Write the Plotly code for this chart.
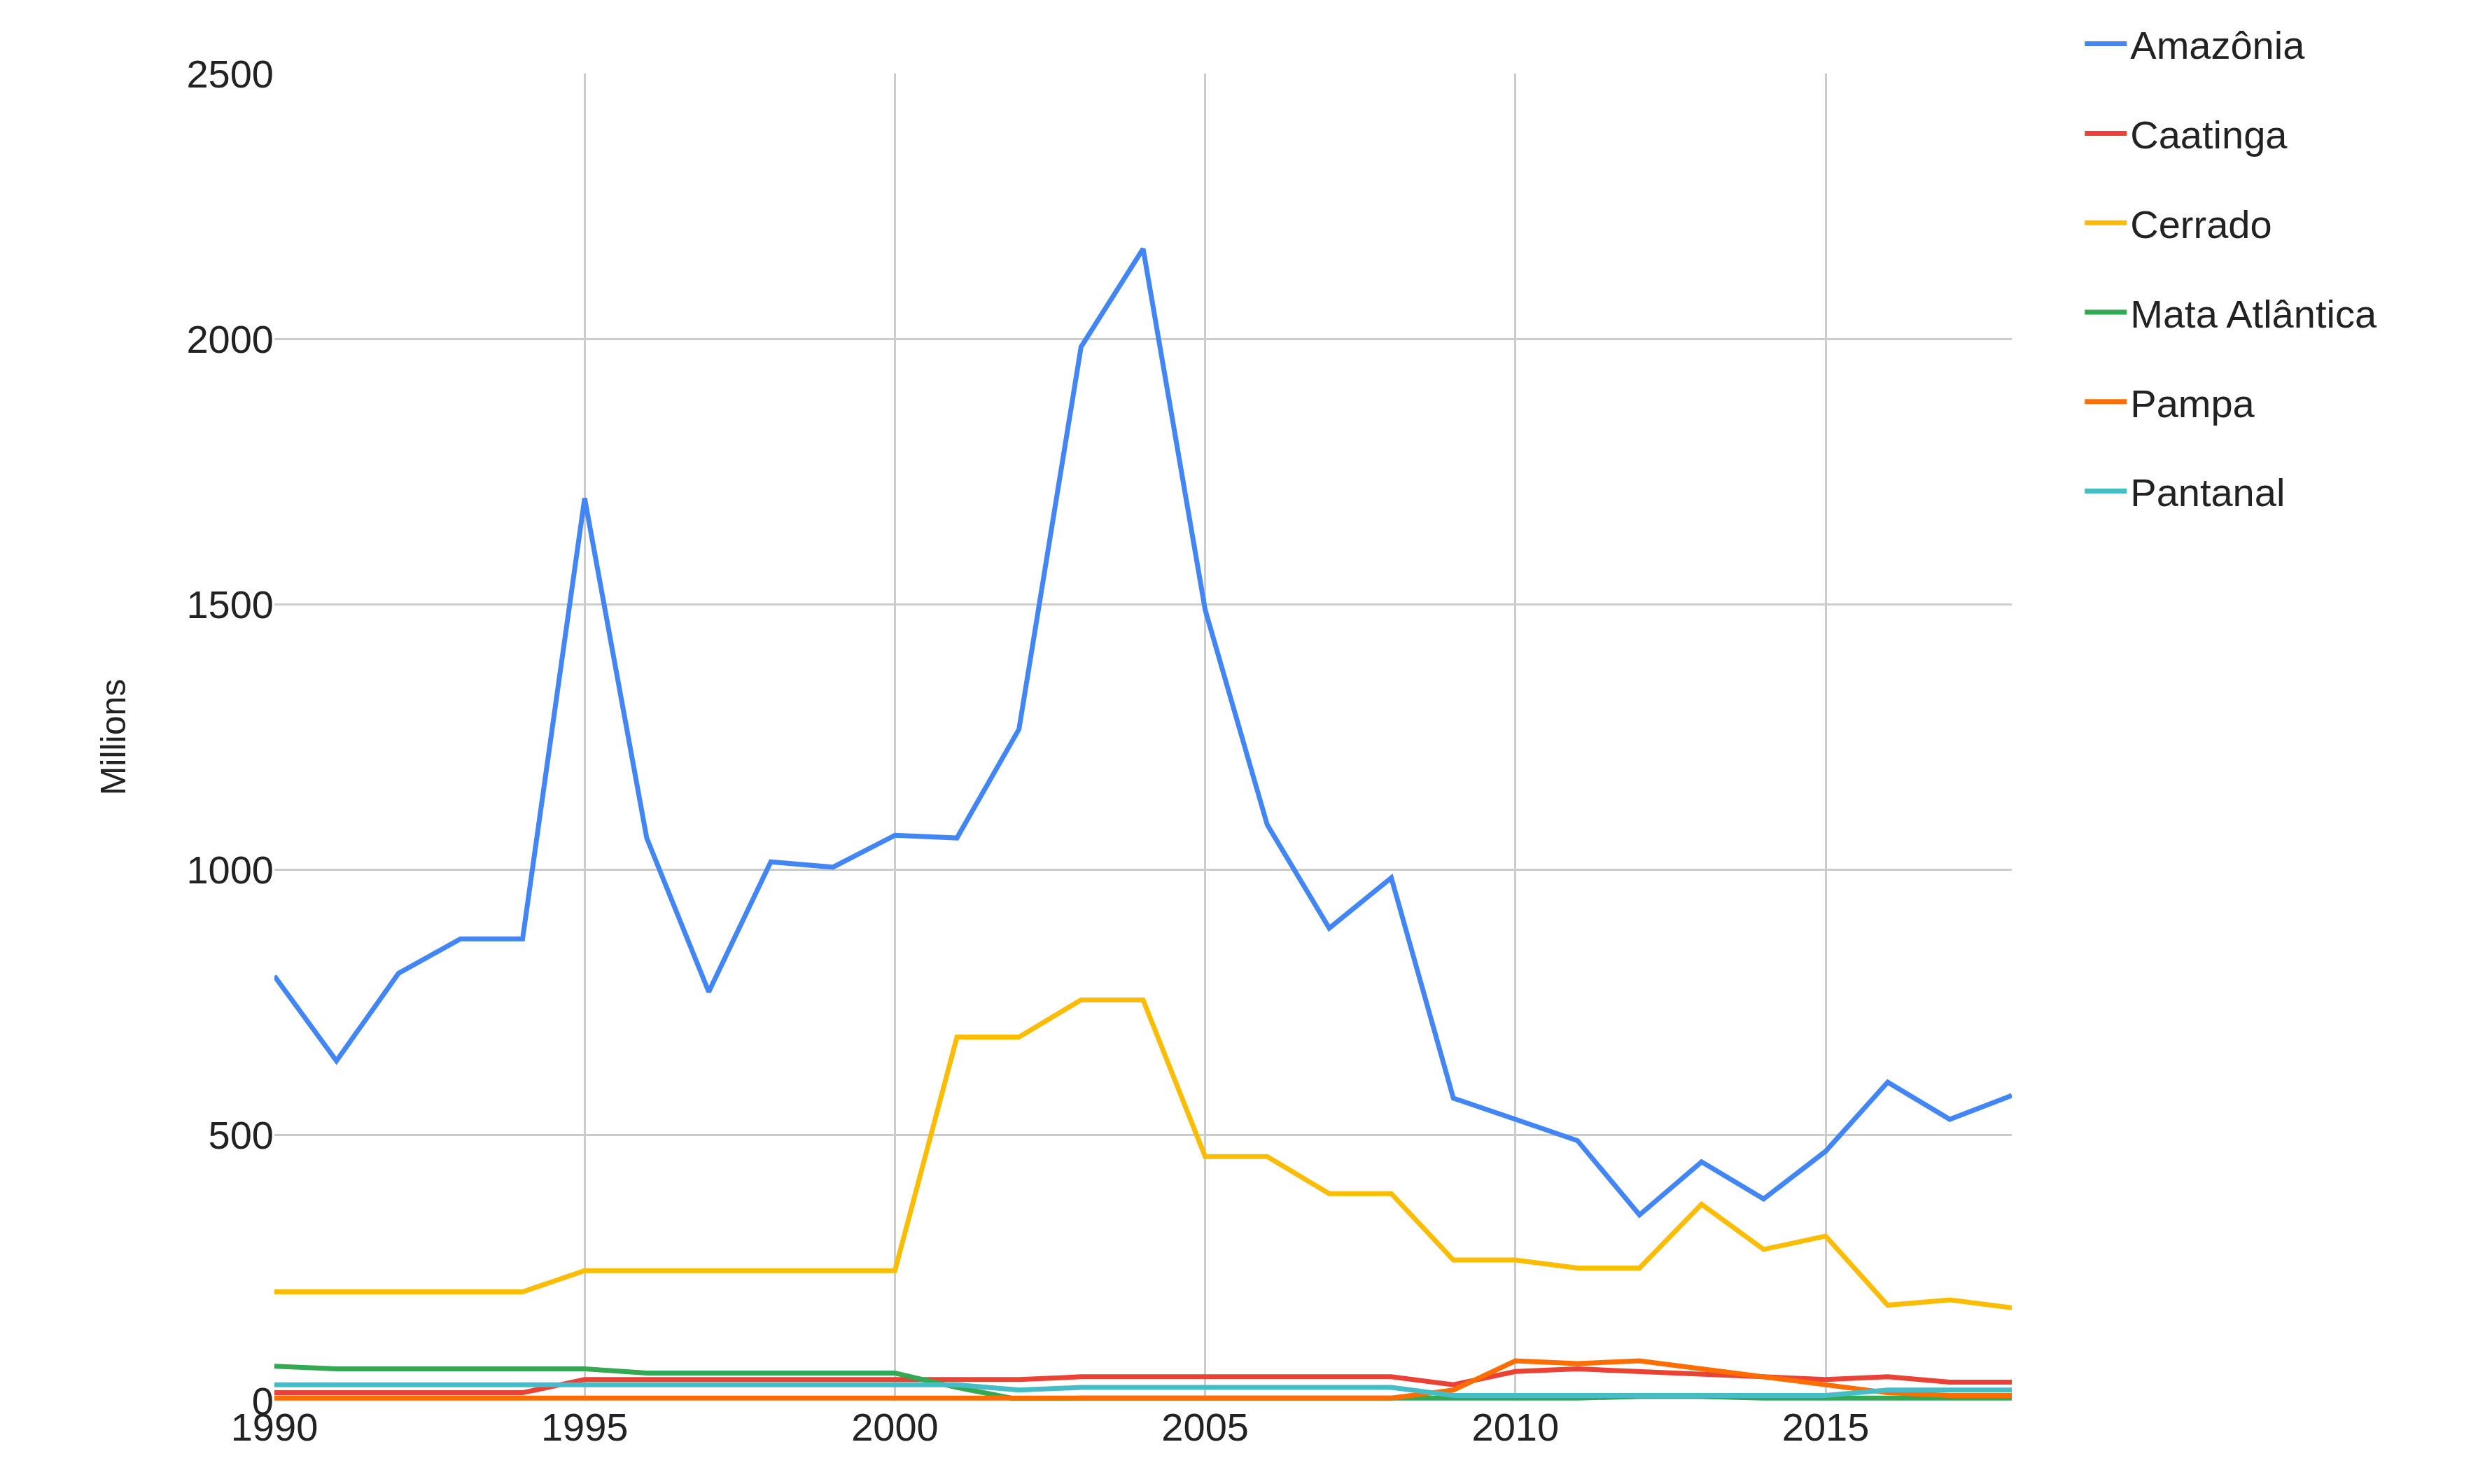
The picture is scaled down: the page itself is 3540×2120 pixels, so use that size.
import plotly.graph_objects as go

years = list(range(1990, 2019))
amazonia = [800,640,805,870,870,1700,1060,770,1015,1005,1065,1060,1265,1985,2170,1490,1085,890,985,570,530,490,350,450,380,470,600,530,575]
caatinga = [15,15,15,15,15,40,40,40,40,40,40,40,40,45,45,45,45,45,45,30,55,60,55,50,45,40,45,35,35]
cerrado = [205,205,205,205,205,245,245,245,245,245,245,685,685,755,755,460,460,390,390,265,265,250,250,370,285,310,180,190,175]
mata = [65,60,60,60,60,60,52,52,52,52,52,25,2,5,5,5,5,5,5,5,5,5,8,8,5,5,5,5,5]
pampa = [5,5,5,5,5,5,5,5,5,5,5,5,5,5,5,5,5,5,5,20,75,70,75,60,45,30,15,10,10]
pantanal = [30,30,30,30,30,30,30,30,30,30,30,30,20,25,25,25,25,25,25,10,10,10,10,10,10,10,20,20,20]

series = [("Amazônia", amazonia, "#4285F4"), ("Caatinga", caatinga, "#EA4335"),
          ("Cerrado", cerrado, "#FBBC04"), ("Mata Atlântica", mata, "#34A853"),
          ("Pampa", pampa, "#FF6D01"), ("Pantanal", pantanal, "#46BDC6")]

fig = go.Figure()
for name, vals, col in series:
    fig.add_trace(go.Scatter(x=years, y=vals, name=name, mode="lines", legendgroup=name,
                             line=dict(color=col, width=7)))

fig.update_layout(
    width=3540, height=2120, paper_bgcolor="white", plot_bgcolor="white",
    margin=dict(l=384, r=674, t=84, b=127),
    font=dict(family="Liberation Sans, Arial", size=56, color="#222"),
    legend=dict(x=1.04, y=1.045, xanchor="left", yanchor="top", font=dict(size=56),
                tracegroupgap=52, itemwidth=60),
    showlegend=True,
)
fig.update_xaxes(range=[1990, 2018], tickvals=[1990,1995,2000,2005,2010,2015],
                 showgrid=True, gridcolor="#cccccc", gridwidth=3, zeroline=False,
                 ticks="", showline=False)
fig.update_yaxes(range=[0, 2500], tickvals=[0,500,1000,1500,2000,2500],
                 showgrid=True, gridcolor="#cccccc", gridwidth=3, zeroline=False,
                 title=dict(text="Millions", standoff=70, font=dict(size=50)), ticks="")
fig.write_html("out.html")
